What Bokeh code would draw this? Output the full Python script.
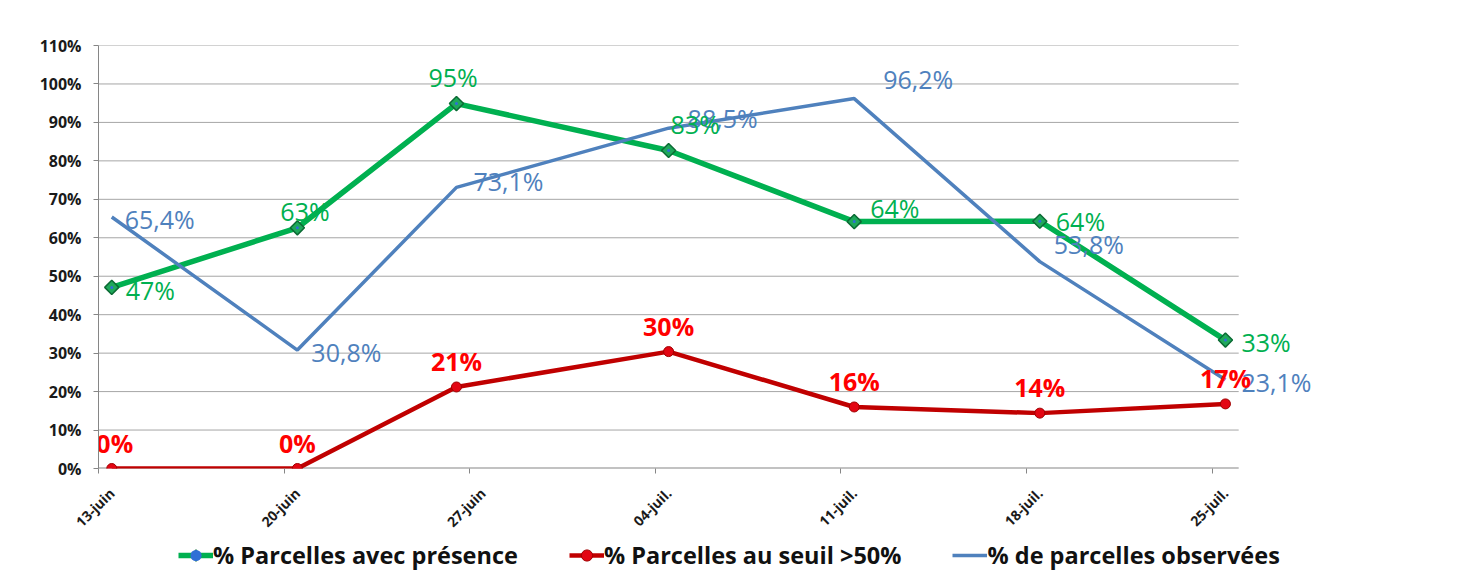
import numpy as np
from bokeh.plotting import figure
from bokeh.layouts import column
from bokeh.models import FixedTicker, Legend, LegendItem, ColumnDataSource
from bokeh.embed import file_html
from bokeh.resources import INLINE
from bokeh.core.properties import value

# ---------------- data ----------------
dates = ["2011-06-13", "2011-06-20", "2011-06-26", "2011-07-04",
         "2011-07-11", "2011-07-18", "2011-07-25"]
presence = [47.1, 62.6, 94.9, 82.7, 64.2, 64.3, 33.4]      # % Parcelles avec présence
seuil = [0.0, 0.0, 21.2, 30.4, 16.0, 14.4, 16.8]           # % Parcelles au seuil >50%
observees = [65.4, 30.8, 73.1, 88.5, 96.2, 53.8, 23.1]     # % de parcelles observées

tick_dates = ["2011-06-13", "2011-06-20", "2011-06-27", "2011-07-04",
              "2011-07-11", "2011-07-18", "2011-07-25"]
tick_labels = ["13-juin", "20-juin", "27-juin", "04-juil.", "11-juil.", "18-juil.", "25-juil."]
y_ticks = [0, 10, 20, 30, 40, 50, 60, 70, 80, 90, 100, 110]

series_names = ["% Parcelles avec présence", "% Parcelles au seuil >50%", "% de parcelles observées"]

# ---------------- styles / layout (pixels) ----------------
GREEN, RED, BLUE = "#00B050", "#C00000", "#4F81BD"
AXIS_GREY, GRID_GREY = "#868686", "#a6a6a6"
FONT = "Open Sans"
# per-label offsets (screen px): dx to anchor, dy (up positive)
g_dx = [14, -17, -28, 2, 16, 16, 16]
g_dy = [-3, 17, 27, 26, 14, 0, -2]
r_dx = [3, 0, 0, 0, 0, 0, 0]
r_dy = [26, 26, 26, 26, 26, 26, 26]
b_dx = [13, 14, 17, 19, 29, 14, 16]
b_dy = [-2, -2, 6, 10, 20, 18, -2]
LABEL_ROOM = 3.5   # extra day-units to the right of the axis so outer labels are not clipped
FRAME_LEFT = 98

origin = np.datetime64(tick_dates[0], "D")
day = lambda s: int((np.datetime64(s, "D") - origin).astype(int))
xs = [day(d) + 0.5 for d in dates]                 # points at day centres
tick_pos = [day(d) for d in tick_dates]             # tick marks at day boundaries
label_pos = [t + 0.5 for t in tick_pos]             # labels centred on the day
x_end = tick_pos[-1] + 1

W = 1460
p = figure(width=W, height=540, x_range=(0, x_end + LABEL_ROOM), y_range=(0, 110),
           output_backend="svg", toolbar_location=None,
           min_border_left=FRAME_LEFT, min_border_right=129, min_border_top=45, min_border_bottom=72)
p.outline_line_color = None
p.background_fill_color = "white"
p.border_fill_color = "white"

# axes
p.xaxis.ticker = FixedTicker(ticks=label_pos, minor_ticks=tick_pos)
p.xaxis.major_label_overrides = {lp: lab for lp, lab in zip(label_pos, tick_labels)}
p.xaxis.major_tick_out = 0
p.xaxis.major_tick_in = 0
p.xaxis.minor_tick_out = 5
p.xaxis.minor_tick_in = 0
p.xaxis.minor_tick_line_color = AXIS_GREY
p.xaxis.axis_line_color = None
p.xaxis.major_label_orientation = np.pi / 4
p.xaxis.major_label_text_font = FONT
p.xaxis.major_label_text_font_style = "bold"
p.xaxis.major_label_text_font_size = "14px"
p.xaxis.major_label_text_color = "#1a1a1a"
p.xaxis.major_label_standoff = 17

p.yaxis.ticker = FixedTicker(ticks=y_ticks, minor_ticks=[])
p.yaxis.major_label_overrides = {t: f"{t}%" for t in y_ticks}
p.yaxis.major_tick_out = 5
p.yaxis.major_tick_in = 0
p.yaxis.major_tick_line_color = AXIS_GREY
p.yaxis.axis_line_color = AXIS_GREY
p.yaxis.major_label_text_font = FONT
p.yaxis.major_label_text_font_style = "bold"
p.yaxis.major_label_text_font_size = "16px"
p.yaxis.major_label_text_color = "#1a1a1a"
p.yaxis.major_label_standoff = 12

p.xgrid.visible = False
p.ygrid.visible = False
# horizontal gridlines and x axis line, ending at the last day of the date axis
grid_y = [t for t in y_ticks if t > 0]
p.segment(x0=[0] * len(grid_y), y0=grid_y, x1=[x_end] * len(grid_y), y1=grid_y,
          line_color=GRID_GREY, line_width=1)
p.segment(x0=[0], y0=[y_ticks[0]], x1=[x_end], y1=[y_ticks[0]],
          line_color=AXIS_GREY, line_width=2)

# series
src = ColumnDataSource(dict(
    x=xs, g=presence, r=seuil, b=observees,
    gl=[f"{v:.0f}%" for v in presence],
    rl=[f"{v:.0f}%" for v in seuil],
    bl=[f"{v:.1f}%".replace(".", ",") for v in observees],
    gdx=g_dx, gdy=[-d for d in g_dy],
    rdx=r_dx, rdy=[-d for d in r_dy],
    bdx=b_dx, bdy=[-d for d in b_dy],
))

G_LINE = dict(line_color=GREEN, line_width=5.5)
G_MARK = dict(marker="square", angle=np.pi / 4, size=10, fill_color="#1fa85a",
              line_color="#0b6b34", line_width=1.5)
G_MARK_LEG = dict(marker="diamond", size=13, fill_color="#1fa85a",
                  line_color="#0b6b34", line_width=1.5)
G_DOT = dict(marker="circle", size=3, fill_color="#2f6fd6", line_color=None)
R_LINE = dict(line_color=RED, line_width=4.5)
R_MARK = dict(marker="circle", size=10, fill_color="#e30613", line_color="#a00000", line_width=1)
B_LINE = dict(line_color=BLUE, line_width=3.5)

p.line("x", "g", source=src, **G_LINE)
p.scatter("x", "g", source=src, **G_MARK)
p.scatter("x", "g", source=src, **G_DOT)
p.line("x", "r", source=src, **R_LINE)
p.scatter("x", "r", source=src, **R_MARK)
p.line("x", "b", source=src, **B_LINE)

# data labels
p.text("x", "b", text="bl", source=src, x_offset="bdx", y_offset="bdy",
       text_color=BLUE, text_font=value(FONT), text_font_size="25px",
       text_align="left", text_baseline="middle")
p.text("x", "g", text="gl", source=src, x_offset="gdx", y_offset="gdy",
       text_color=GREEN, text_font=value(FONT), text_font_size="25px",
       text_align="left", text_baseline="middle")
p.text("x", "r", text="rl", source=src, x_offset="rdx", y_offset="rdy",
       text_color="#FF0000", text_font=value(FONT), text_font_size="25px",
       text_font_style="bold", text_align="center", text_baseline="middle")

# ---------------- legend strip (its frame is aligned with the chart frame) ----------------
lg = figure(width=W, height=40, x_range=(0, 1), y_range=(0, 1),
            x_axis_location=None, y_axis_location=None,
            output_backend="svg", toolbar_location=None,
            min_border=0, min_border_left=0, min_border_right=0,
            min_border_top=0, min_border_bottom=0)
lg.grid.visible = False
lg.outline_line_color = None
hidden = ColumnDataSource(dict(x=[-5], y=[-5]))   # out of view; only feeds legend glyphs
lg_g = [lg.line("x", "y", source=hidden, **G_LINE),
        lg.scatter("x", "y", source=hidden, **G_MARK_LEG),
        lg.scatter("x", "y", source=hidden, **G_DOT)]
lg_r = [lg.line("x", "y", source=hidden, **R_LINE),
        lg.scatter("x", "y", source=hidden, **R_MARK)]
lg_b = [lg.line("x", "y", source=hidden, **B_LINE)]

legend = Legend(items=[
    LegendItem(label=series_names[0], renderers=lg_g),
    LegendItem(label=series_names[1], renderers=lg_r),
    LegendItem(label=series_names[2], renderers=lg_b),
], orientation="horizontal", location=(178 - FRAME_LEFT, 9), padding=0, margin=0, spacing=51,
    glyph_width=35, glyph_height=28, label_height=28, label_standoff=0,
    label_text_font=FONT, label_text_font_size="23.5px", label_text_font_style="bold",
    label_text_color="#111111", border_line_color=None, background_fill_alpha=0)
lg.add_layout(legend)

layout = column(p, lg, spacing=0)
open("out.html", "w").write(file_html(layout, INLINE))
